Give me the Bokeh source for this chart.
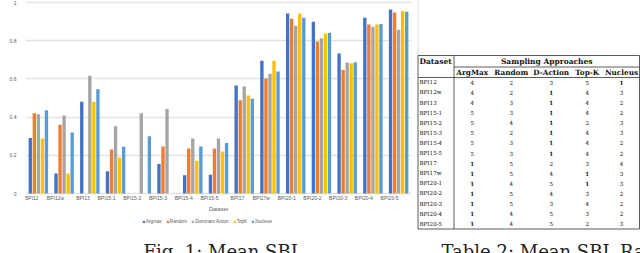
import math
from bokeh.plotting import figure
from bokeh.layouts import row
from bokeh.models import (Range1d, FactorRange, Legend, LegendItem, Label,
                          FixedTicker, ColumnDataSource)
from bokeh.transform import dodge
from bokeh.embed import file_html
from bokeh.resources import INLINE
from bokeh.core.properties import value

# ---------------- data ----------------
categories = ["BPI12", "BPI12w", "BPI13", "BPI15-1", "BPI15-2", "BPI15-3", "BPI15-4",
              "BPI15-5", "BPI17", "BPI17w", "BPI20-1", "BPI20-2", "BPI20-3", "BPI20-4", "BPI20-5"]
series_names = ["Argmax", "Random", "Dominant Action", "TopK", "Nucleus"]
argmax = [0.29, 0.105, 0.48, 0.117, 0.0, 0.155, 0.096, 0.098, 0.565, 0.695, 0.942, 0.899, 0.733, 0.920, 0.963]
random_ = [0.42, 0.36, 0.0, 0.23, 0.0, 0.246, 0.236, 0.236, 0.488, 0.602, 0.915, 0.796, 0.646, 0.885, 0.948]
d_action = [0.415, 0.408, 0.616, 0.352, 0.42, 0.443, 0.288, 0.288, 0.56, 0.627, 0.878, 0.813, 0.686, 0.873, 0.857]
topk = [0.288, 0.105, 0.48, 0.188, 0.0, 0.0, 0.171, 0.22, 0.513, 0.695, 0.942, 0.838, 0.682, 0.885, 0.956]
nucleus = [0.436, 0.32, 0.546, 0.245, 0.30, 0.0, 0.246, 0.265, 0.496, 0.639, 0.92, 0.841, 0.687, 0.888, 0.951]
y_ticks = [0, 0.2, 0.4, 0.6, 0.8, 1.0]
y_tick_labels = ["0", "0.2", "0.4", "0.6", "0.8", "1"]

table_datasets = categories
table_headers = ["ArgMax", "Random", "D-Action", "Top-K", "Nucleus"]
rank_argmax = [4, 4, 4, 5, 5, 5, 5, 5, 1, 1, 1, 1, 1, 1, 1]
rank_random = [2, 2, 3, 3, 4, 2, 3, 3, 5, 5, 4, 5, 5, 4, 4]
rank_daction = [3, 1, 1, 1, 1, 1, 1, 1, 2, 4, 5, 4, 3, 5, 5]
rank_topk = [5, 4, 4, 4, 2, 4, 4, 4, 3, 1, 1, 3, 4, 3, 2]
rank_nucleus = [1, 3, 2, 2, 3, 3, 2, 2, 4, 3, 3, 2, 2, 2, 3]

fig_caption = "Fig. 1: Mean SBL"
table_caption = "Table 2: Mean SBL Rank"

# ---------------- styles / layout ----------------
colors = ["#4472C4", "#ED7D31", "#A5A5A5", "#FFC000", "#5B9BD5"]
grey_text = "#595959"
grid_col = "#E3E3E3"
H = 253
CHART_W, TABLE_W = 412, 228
Y_ZERO, Y_ONE = 193.0, 2.0
ppu = Y_ZERO - Y_ONE
y_start = -(H - Y_ZERO) / ppu
y_end = 1 + Y_ONE / ppu

# ---------------- bar chart ----------------
p = figure(x_range=FactorRange(*categories), y_range=Range1d(y_start, y_end),
           width=CHART_W, height=H, output_backend="svg", toolbar_location=None,
           min_border_left=25, min_border_right=1, min_border_top=0, min_border_bottom=0,
           outline_line_color=None, background_fill_color="white")

src = ColumnDataSource(dict(cat=categories, a=argmax, r=random_, d=d_action, t=topk, n=nucleus))
cols = ["a", "r", "d", "t", "n"]
pitch = 0.157
bw = 0.13
renderers = []
for i, (c, col) in enumerate(zip(cols, colors)):
    r = p.vbar(x=dodge("cat", (i - 2) * pitch, range=p.x_range), top=c, width=bw,
               source=src, fill_color=col, line_color=None)
    renderers.append(r)

p.xaxis.fixed_location = 0
p.yaxis.ticker = FixedTicker(ticks=y_ticks)
p.yaxis.major_label_overrides = {t: l for t, l in zip(y_ticks, y_tick_labels)}
for ax in (p.xaxis[0], p.yaxis[0]):
    ax.axis_line_color = None
    ax.major_tick_line_color = None
    ax.minor_tick_line_color = None
    ax.major_label_text_font = "Liberation Sans"
    ax.major_label_text_font_size = "5px"
    ax.major_label_text_color = grey_text
    ax.axis_label_text_font = "Liberation Sans"
    ax.axis_label_text_font_size = "5.5px"
    ax.axis_label_text_font_style = "normal"
    ax.axis_label_text_color = grey_text
    ax.major_label_standoff = 3
    ax.axis_label_standoff = 2
p.xaxis.axis_label = "Dataset"
p.xaxis.major_label_standoff = -2
p.xaxis.axis_label_standoff = -1
p.xaxis.major_label_orientation = 0
p.xgrid.grid_line_color = None
p.ygrid.grid_line_color = grid_col
p.ygrid.grid_line_width = 1.3

# y-axis title, placed where the reference shows it
p.add_layout(Label(x=-15, y=H - 79, x_units="screen", y_units="screen", text="Mean SBL",
                   angle=math.pi / 2, text_align="center", text_baseline="middle",
                   text_font="Liberation Sans", text_font_size="5.5px", text_color=grey_text))

legend = Legend(items=[LegendItem(label=n, renderers=[r]) for n, r in zip(series_names, renderers)],
                location=(117, H - 223.5), orientation="horizontal",
                label_text_font="Liberation Sans", label_text_font_size="4.6px",
                label_text_color=grey_text, glyph_width=3, glyph_height=3,
                label_standoff=1, spacing=4, padding=0, margin=0, label_height=5, label_width=5,
                background_fill_alpha=0, border_line_color=None)
p.add_layout(legend)

p.add_layout(Label(x=143 - 25, y=2, x_units="screen", y_units="screen", text=fig_caption,
                   text_font="DejaVu Serif", text_font_size="18px", text_color="#222222",
                   text_baseline="alphabetic"))

# ---------------- table ----------------
t = figure(x_range=Range1d(CHART_W, CHART_W + TABLE_W), y_range=Range1d(H, 0),
           width=TABLE_W, height=H, output_backend="svg", toolbar_location=None, min_border=0,
           x_axis_location=None, y_axis_location=None, outline_line_color=None)
t.grid.visible = False

left, right, top, bottom = 417.5, 639.0, 55.0, 228.5
col_sep = 453.5
hline1, hline2 = 66.5, 77.0
row0, row_step = 81.8, 10.1
col_x = [471.7, 510.7, 550.7, 586.7, 621.0]
hdr1_y, hdr2_y = 61.0, 71.8

t.segment(x0=[left], y0=[0], x1=[left], y1=[top], line_color="#D9D9D9", line_width=1)
t.segment(x0=[left, left, left, right, col_sep, col_sep, left],
          y0=[top, bottom, top, top, top, hline1, hline2],
          x1=[right, right, left, right, col_sep, right, right],
          y1=[top, bottom, bottom, bottom, bottom, hline1, hline2],
          line_color="#333333", line_width=0.8)

serif = value("DejaVu Serif")
t.text(x=[left + 1.5], y=[hdr1_y], text=["Dataset"], text_font=serif, text_font_size="7.5px",
       text_font_style="bold", text_baseline="middle", text_align="left", text_color="#111111")
t.text(x=[(col_sep + right) / 2], y=[hdr1_y], text=["Sampling Approaches"], text_font=serif,
       text_font_size="7.5px", text_font_style="bold", text_baseline="middle", text_align="center",
       text_color="#111111")
t.text(x=col_x, y=[hdr2_y] * len(col_x), text=table_headers, text_font=serif, text_font_size="7.3px",
       text_font_style="bold", text_baseline="middle", text_align="center", text_color="#111111")

ys = [row0 + i * row_step for i in range(len(table_datasets))]
t.text(x=[left + 1.5] * len(ys), y=ys, text=table_datasets, text_font=serif, text_font_size="5.6px",
       text_baseline="middle", text_align="left", text_color="#111111")
ranks = [rank_argmax, rank_random, rank_daction, rank_topk, rank_nucleus]
xs, yy, txt, sty = [], [], [], []
for cx, rk in zip(col_x, ranks):
    for y, v in zip(ys, rk):
        xs.append(cx); yy.append(y); txt.append(str(v)); sty.append("bold" if v == 1 else "normal")
t.text(x="x", y="y", text="t", text_font_style="s",
       source=ColumnDataSource(dict(x=xs, y=yy, t=txt, s=sty)),
       text_font=serif, text_font_size="5.6px", text_baseline="middle", text_align="center",
       text_color="#111111")

t.text(x=[441], y=[251], text=[table_caption], text_font=serif, text_font_size="18px",
       text_baseline="alphabetic", text_align="left", text_color="#222222")

layout = row(p, t, spacing=0)
open("out.html", "w").write(file_html(layout, INLINE))
